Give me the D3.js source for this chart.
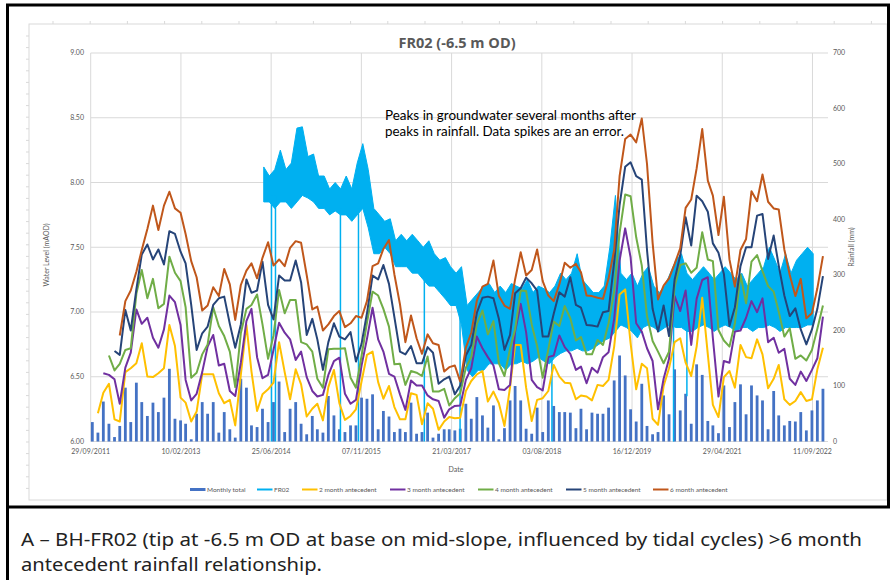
<!DOCTYPE html>
<html><head><meta charset="utf-8">
<script src="https://cdn.jsdelivr.net/npm/d3@7"></script>
<style>body{margin:0;background:#fff}svg{display:block}</style>
</head><body>
<svg id="c" width="895" height="580"></svg>
<script>
// ---------------- DATA ----------------
const title = "FR02 (-6.5 m OD)";
const barStart = "2011-10-08";
const monthlyTotal = [35,16,72,32,8,28,97,35,106,71,46,70,53,79,131,41,38,32,4,50,71,50,71,16,53,22,7,113,97,29,26,59,35,71,108,17,59,71,32,13,46,22,16,82,47,22,17,29,29,79,77,85,22,55,45,
17,23,17,70,14,17,52,7,14,22,22,20,23,68,41,80,47,25,65,4,24,74,100,74,23,14,61,17,74,64,53,53,52,24,59,22,52,50,50,61,
110,155,119,58,36,
104,28,13,17,83,49,130,56,86,32,139,120,37,29,15,101,26,71,103,49,101,83,74,22,91,47,29,37,36,53,20,56,74,95];
const ante2 = [null,
51,88,104,40,36,125,132,141,177,117,116,123,132,210,172,79,70,36,54,121,
121,121,87,69,75,29,120,210,126,55,85,94,106,179,125,76,130,103,45,59,
68,38,98,129,69,39,46,58,108,156,162,107,77,100,62,40,40,87,84,31,
69,59,21,36,44,42,43,91,109,121,127,72,90,69,28,98,174,174,97,37,
75,78,91,138,117,106,105,76,83,81,74,102,100,111,171,265,274,177,94,140,
132,41,30,100,132,179,186,142,118,171,259,157,66,44,116,127,97,174,152,150,
184,157,96,113,138,76,66,73,89,73,76,130,169];
const ante3 = [null,null,
123,120,112,68,133,160,238,212,223,187,169,202,263,251,210,111,74,86,125,171,
192,137,140,91,82,142,217,239,152,114,120,165,214,196,184,147,162,116,91,81,
84,120,145,151,86,68,75,137,185,241,184,162,122,117,85,57,110,101,101,83,
76,73,43,58,64,65,111,132,189,168,152,137,94,93,102,198,248,197,111,98,
92,152,155,191,170,158,129,135,105,133,124,152,161,221,326,384,332,213,198,168,
145,58,113,149,262,235,272,174,257,291,296,186,81,145,142,198,200,223,253,233,
258,179,187,160,167,113,102,126,109,129,150,225];
const ante4 = [null,null,null,
155,128,140,165,168,266,309,258,293,240,248,333,304,289,242,115,124,157,175,242,
208,190,162,98,195,239,246,265,211,149,191,273,231,255,255,179,175,162,113,97,
166,167,167,168,115,97,154,214,270,263,239,207,139,140,102,127,124,118,153,90,
90,95,65,78,87,133,152,212,236,193,217,141,118,167,202,272,271,211,172,115,
166,216,208,244,222,182,188,157,157,183,174,213,271,376,445,442,368,317,226,181,
162,141,162,279,318,321,304,313,377,328,325,201,182,171,213,301,249,324,336,307,
280,270,234,189,204,149,155,146,165,203,245];
const ante5 = [null,null,null,null,
163,156,237,200,274,337,355,328,346,319,379,374,342,321,246,165,195,207,246,258,
261,212,169,211,292,268,272,324,246,220,299,290,290,326,287,192,221,184,129,179,
213,189,184,197,144,176,231,299,292,318,284,224,162,157,172,141,141,170,160,104,
112,117,85,101,155,174,232,259,261,258,221,165,192,267,276,295,285,272,189,189,
230,269,261,296,246,241,210,209,207,233,235,323,426,495,503,478,472,345,239,198,
245,190,292,335,404,353,443,433,414,357,340,302,208,242,316,350,350,407,410,329,
371,317,263,226,240,202,175,202,239,298];
const ante6 = [null,null,null,null,null,
191,253,272,306,345,383,425,381,425,450,420,412,374,325,296,236,245,278,262,311,
283,219,282,308,321,294,331,359,317,328,316,349,361,358,300,238,243,200,211,226,
235,206,213,226,223,253,316,321,347,363,301,247,179,227,186,158,193,177,174,126,
134,137,108,169,196,254,279,284,326,262,245,239,292,341,299,309,346,289,263,253,
283,322,313,320,305,263,262,259,257,294,345,478,545,553,539,582,500,358,256,281,
294,320,348,421,436,492,563,470,443,372,441,328,279,345,365,451,433,481,432,420,
418,346,300,262,293,222,231,276,334];

const fr02Start = "2014-05-15";
const fr02High = [8.12,8.05,8.1,8.25,8.1,8.15,8.42,8.43,8.2,8.22,8.05,8.05,7.95,8.0,7.95,8.05,7.95,8.15,8.3,8.1,
7.8,7.75,7.7,7.72,7.55,7.6,7.55,7.6,7.55,7.5,7.55,7.45,7.4,7.42,7.35,7.3,7.35,7.05,7.1,7.15,
7.2,7.22,7.15,7.2,7.15,7.22,7.2,7.18,7.25,7.15,7.2,7.18,7.15,7.2,7.3,7.25,7.3,7.45,7.25,7.2,
7.15,7.15,7.2,7.5,7.9,7.3,7.25,7.3,7.2,7.3,7.35,7.2,7.15,7.2,7.3,7.4,7.45,7.3,7.25,7.3,
7.35,7.3,7.25,7.3,7.35,7.3,7.25,7.3,7.2,7.25,7.3,7.35,7.5,7.4,7.3,7.45,7.3,7.4,7.45,7.5,7.45];
const fr02Low = [7.85,7.85,7.8,7.85,7.85,7.8,7.85,7.9,7.88,7.85,7.8,7.8,7.75,7.78,7.75,7.75,7.7,7.75,7.8,7.65,
7.45,7.45,7.5,7.45,7.35,7.35,7.35,7.3,7.3,7.25,7.2,7.2,7.15,7.1,7.05,7.05,6.9,6.55,6.5,6.55,
6.55,6.6,6.6,6.6,6.55,6.6,6.6,6.62,6.6,6.62,6.65,6.62,6.6,6.65,6.68,6.7,6.7,6.72,6.7,6.7,
6.72,6.75,6.78,6.8,6.85,6.9,6.88,6.85,6.8,6.88,6.9,6.88,6.85,6.88,6.9,6.88,6.88,6.85,6.85,6.88,
6.9,6.88,6.85,6.88,6.9,6.88,6.85,6.88,6.88,6.85,6.88,6.88,6.9,6.88,6.85,6.88,6.88,6.88,6.88,6.9,6.9];
const spikeDates = ["2014-06-27","2014-07-19","2015-07-14","2015-10-22","2016-10-21","2017-05-07","2018-09-28","2020-08-02","2020-10-15"];
const spikeTop  = [7.9,7.9,7.8,7.8,7.3,7.1,6.8,6.95,6.9];
const spikeLow  = [6.0,6.0,6.0,6.0,6.0,6.0,6.0,6.0,6.35];

const leftTicks = [6.0,6.5,7.0,7.5,8.0,8.5,9.0];
const rightTicks = [0,100,200,300,400,500,600,700];
const xTickStart = "2011-09-29";
const seriesNames = ["Monthly total","FR02","2 month antecedent","3 month antecedent","4 month antecedent","5 month antecedent","6 month antecedent"];
const colors = ["#4472C4","#00B0F0","#FFC000","#7030A0","#70AD47","#264478","#C0571B"];
const annotation = ["Peaks in groundwater several months after","peaks in rainfall. Data spikes are an error."];
const caption = ["A \u2013 BH-FR02 (tip at -6.5 m OD at base on mid-slope, influenced by tidal cycles) >6 month","antecedent rainfall relationship."];

// ---------------- DRAW ----------------
const svg = d3.select("#c");
const parse = d3.timeParse("%Y-%m-%d");
const t0 = parse(xTickStart);
const L = 90.7, R = 828, T = 53, B = 441.5;
const x = d3.scaleTime().domain([t0, d3.timeDay.offset(t0, 4086)]).range([L, R]);
const yL = d3.scaleLinear().domain([6, 9]).range([B, T]);
const yR = d3.scaleLinear().domain([0, 700]).range([B, T]);
const tickFont = "Lato, 'Open Sans', sans-serif";
const grey = "#595959";

// spreadsheet-like frame
const fr = svg.append("g").attr("stroke", "#d9d9d9").attr("fill", "none");
fr.append("rect").attr("x", 29).attr("y", 24).attr("width", 858).attr("height", 476);
for (let xx = 53; xx < 887; xx += 37.2) fr.append("line").attr("x1", xx).attr("x2", xx).attr("y1", 21).attr("y2", 24);
for (let yy = 36; yy < 500; yy += 11.6) {
  fr.append("line").attr("x1", 26).attr("x2", 29).attr("y1", yy).attr("y2", yy);
  fr.append("line").attr("x1", 887).attr("x2", 890).attr("y1", yy).attr("y2", yy);
}

// gridlines
const xTicks = d3.range(9).map(k => d3.timeDay.offset(t0, 500 * k));
const g = svg.append("g");
g.selectAll(".hg").data(leftTicks).join("line")
  .attr("x1", L).attr("x2", R).attr("y1", d => yL(d)).attr("y2", d => yL(d))
  .attr("stroke", "#d9d9d9").attr("stroke-width", 1);
g.selectAll(".vg").data(xTicks).join("line")
  .attr("x1", d => x(d)).attr("x2", d => x(d)).attr("y1", T).attr("y2", B)
  .attr("stroke", "#d9d9d9").attr("stroke-width", 1);

// bars
const b0 = parse(barStart);
const barDates = monthlyTotal.map((v, i) => d3.timeMonth.offset(b0, i));
svg.append("g").selectAll("rect").data(monthlyTotal).join("rect")
  .attr("x", (d, i) => x(barDates[i]) - 1.4).attr("width", 2.8)
  .attr("y", d => yR(d)).attr("height", d => B - yR(d))
  .attr("fill", colors[0]);

// FR02
const f0 = parse(fr02Start);
const fDates = fr02High.map((v, i) => d3.timeMonth.offset(f0, i));
const area = d3.area().x((d, i) => x(fDates[i])).y0((d, i) => yL(fr02Low[i])).y1((d, i) => yL(fr02High[i]));
svg.append("path").datum(fr02High).attr("d", area).attr("fill", colors[1]).attr("stroke", colors[1]).attr("stroke-width", 1);
svg.append("g").selectAll("line").data(spikeDates).join("line")
  .attr("x1", d => x(parse(d))).attr("x2", d => x(parse(d)))
  .attr("y1", (d, i) => yL(spikeTop[i])).attr("y2", (d, i) => yL(spikeLow[i]))
  .attr("stroke", colors[1]).attr("stroke-width", 1.5);

// antecedent lines
const anteSeries = [ante2, ante3, ante4, ante5, ante6];
anteSeries.forEach((s, k) => {
  const line = d3.line().defined(d => d != null).x((d, i) => x(barDates[i])).y(d => yR(d));
  svg.append("path").datum(s).attr("d", line).attr("fill", "none")
    .attr("stroke", colors[k + 2]).attr("stroke-width", 2).attr("stroke-linejoin", "round");
});

// axes labels
const ax = svg.append("g").attr("font-family", tickFont).attr("font-size", 7).attr("fill", grey);
ax.selectAll(".lt").data(leftTicks).join("text").attr("x", 84).attr("y", d => yL(d) + 2.4)
  .attr("text-anchor", "end").text(d => d3.format(".2f")(d));
ax.selectAll(".rt").data(rightTicks).join("text").attr("x", 833).attr("y", d => yR(d) + 2.4)
  .attr("text-anchor", "start").text(d => d);
ax.selectAll(".xt").data(xTicks).join("text").attr("x", d => x(d)).attr("y", 453.5)
  .attr("text-anchor", "middle").text(d => d3.timeFormat("%d/%m/%Y")(d));
ax.append("text").attr("transform", "translate(49,255) rotate(-90)").attr("text-anchor", "middle").text("Water Level (mAOD)");
ax.append("text").attr("transform", "translate(854,247) rotate(-90)").attr("text-anchor", "middle").text("Rainfall (mm)");
ax.append("text").attr("x", 456).attr("y", 472).attr("text-anchor", "middle").text("Date");

// title
svg.append("text").attr("x", 457).attr("y", 48).attr("text-anchor", "middle")
  .attr("font-family", "'Open Sans', sans-serif").attr("font-weight", "bold").attr("font-size", 14.5)
  .attr("fill", grey).text(title);

// annotation
svg.append("g").selectAll("text").data(annotation).join("text")
  .attr("x", 385).attr("y", (d, i) => 120 + i * 16.3)
  .attr("font-family", "Lato, sans-serif").attr("font-size", 13.2).attr("fill", "#000")
  .attr("textLength", (d, i) => i ? 239 : 251).attr("lengthAdjust", "spacingAndGlyphs").text(d => d);

// legend
const legX = [190, 257, 302, 390, 478, 566, 653];
const lg = svg.append("g").attr("font-family", tickFont).attr("font-size", 6.5).attr("fill", grey);
seriesNames.forEach((n, k) => {
  lg.append("line").attr("x1", legX[k]).attr("x2", legX[k] + 15.5).attr("y1", 489.5).attr("y2", 489.5)
    .attr("stroke", colors[k]).attr("stroke-width", k === 0 ? 3 : 2);
  lg.append("text").attr("x", legX[k] + 17).attr("y", 491.8).text(n);
});

// borders
svg.append("rect").attr("x", 7.5).attr("y", 5).attr("width", 881).attr("height", 502)
  .attr("fill", "none").attr("stroke", "#000").attr("stroke-width", 3);
svg.append("line").attr("x1", 7.5).attr("x2", 7.5).attr("y1", 507).attr("y2", 580).attr("stroke", "#000").attr("stroke-width", 3);

// caption
svg.append("g").selectAll("text").data(caption).join("text")
  .attr("x", 21).attr("y", (d, i) => 546 + i * 25)
  .attr("font-family", "'Noto Sans', sans-serif").attr("font-size", 18).attr("fill", "#222")
  .attr("textLength", (d, i) => i ? 301 : 841).attr("lengthAdjust", "spacingAndGlyphs").text(d => d);
</script>
</body></html>
